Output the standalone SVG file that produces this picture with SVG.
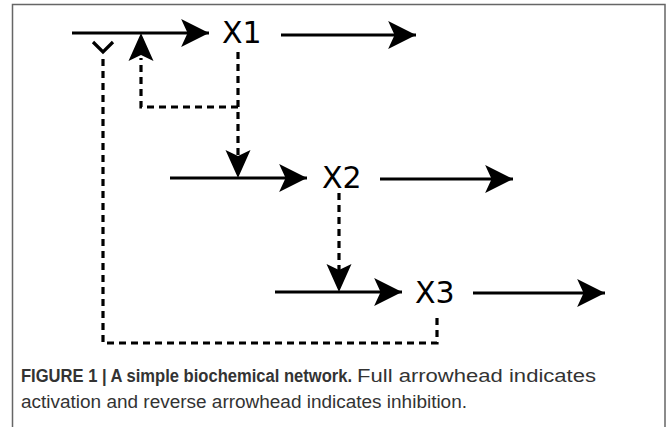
<svg xmlns="http://www.w3.org/2000/svg" width="668" height="427" viewBox="0 0 668 427">
<style>
.solid{stroke:#000;stroke-width:3.2;fill:none}
.dash{stroke:#000;stroke-width:3.2;fill:none;stroke-dasharray:7,5}
.lbl{font-family:"DejaVu Sans",sans-serif;font-size:30px;fill:#000}
.cap{font-family:"Liberation Sans",Arial,sans-serif;font-size:17.5px;fill:#333}
</style>
<defs>
<marker id="ah" markerUnits="userSpaceOnUse" markerWidth="30" markerHeight="30" viewBox="-27 -14 28 28" refX="0" refY="0" orient="auto">
<path d="M0,0 L-26,-13 L-20,0 L-26,13 Z" fill="#000"/>
</marker>
</defs>
<rect width="668" height="427" fill="#fff"/>
<path d="M12.5,427 V4.5 H665 V427" fill="none" stroke="#666" stroke-width="1.5"/>
<g id="connectors">
<line class="solid" x1="72" y1="33" x2="209" y2="33" marker-end="url(#ah)"/>
<line class="solid" x1="281" y1="35" x2="416" y2="35" marker-end="url(#ah)"/>
<line class="solid" x1="170" y1="178" x2="307" y2="178" marker-end="url(#ah)"/>
<line class="solid" x1="380" y1="179" x2="513" y2="179" marker-end="url(#ah)"/>
<line class="solid" x1="275" y1="292" x2="402" y2="292" marker-end="url(#ah)"/>
<line class="solid" x1="473" y1="293" x2="605" y2="293" marker-end="url(#ah)"/>
<path class="dash" d="M238,52 V155"/>
<path class="dash" d="M238,107 H141 V58"/>
<path d="M238,178 L225.5,150 L238,156 L250.5,150 Z" fill="#000"/>
<path d="M141,33 L128.5,61 L141,55 L153.5,61 Z" fill="#000"/>
<path class="dash" d="M339,193 V270"/>
<path d="M339,292 L326.5,264 L339,270 L351.5,264 Z" fill="#000"/>
<path class="dash" d="M437,318 V343 H103 V55"/>
<path class="solid" d="M93,42 L103,52 L113,42"/>
</g>
<g id="X1"><text class="lbl" x="222" y="43">X1</text></g>
<g id="X2"><text class="lbl" x="322" y="188">X2</text></g>
<g id="X3"><text class="lbl" x="415" y="303">X3</text></g>
<g id="caption">
<text class="cap" y="382"><tspan x="21" font-weight="bold" textLength="331" lengthAdjust="spacingAndGlyphs">FIGURE 1 | A simple biochemical network.</tspan><tspan x="357" textLength="239" lengthAdjust="spacingAndGlyphs">Full arrowhead indicates</tspan></text>
<text class="cap" x="21" y="408" textLength="446" lengthAdjust="spacingAndGlyphs">activation and reverse arrowhead indicates inhibition.</text>
</g>
</svg>
